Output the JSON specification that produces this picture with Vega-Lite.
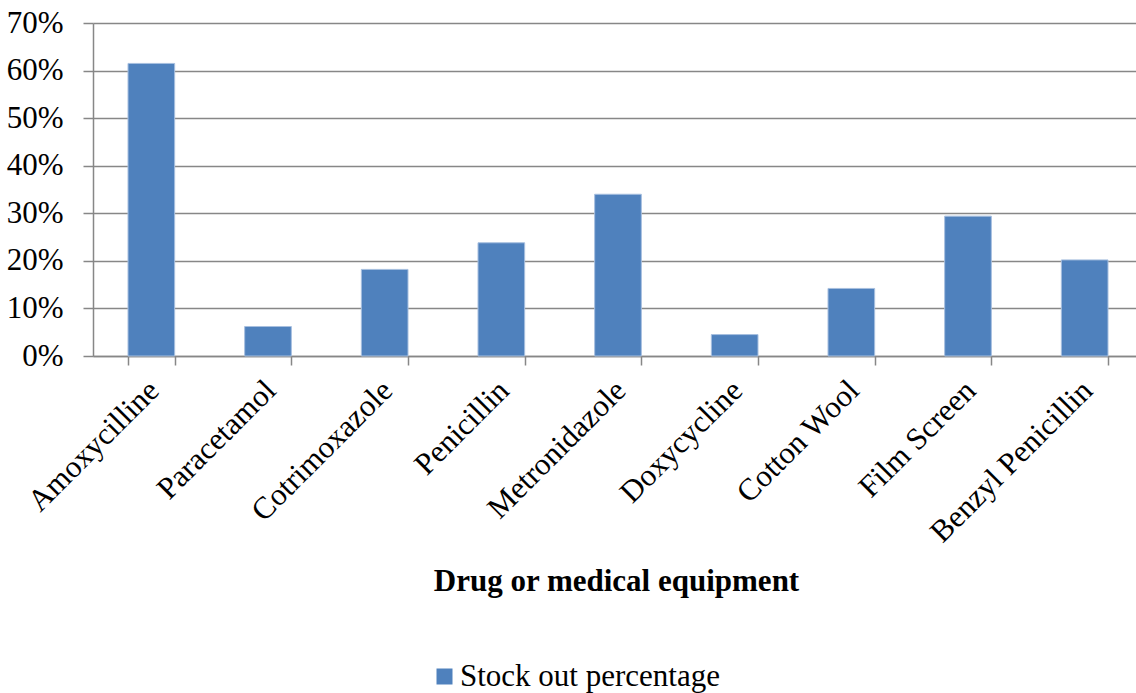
{
  "$schema": "https://vega.github.io/schema/vega-lite/v6.json",
  "width": 1050,
  "height": 333,
  "autosize": "none",
  "padding": {"left": 93, "top": 23, "right": -7, "bottom": 337},
  "background": "white",
  "data": {
    "values": [
      {"item": "Amoxycilline", "pct": 0.615},
      {"item": "Paracetamol", "pct": 0.062},
      {"item": "Cotrimoxazole", "pct": 0.182},
      {"item": "Penicillin", "pct": 0.238},
      {"item": "Metronidazole", "pct": 0.340},
      {"item": "Doxycycline", "pct": 0.045},
      {"item": "Cotton Wool", "pct": 0.142},
      {"item": "Film Screen", "pct": 0.294},
      {"item": "Benzyl Penicillin", "pct": 0.202}
    ]
  },
  "config": {
    "view": {"stroke": null},
    "font": "Liberation Serif"
  },
  "mark": {"type": "bar", "stroke": "#a7bfdf", "strokeWidth": 1},
  "encoding": {
    "x": {
      "field": "item",
      "type": "nominal",
      "sort": null,
      "scale": {"paddingInner": 0.6, "paddingOuter": 0.3},
      "axis": {
        "title": "Drug or medical equipment",
        "titleFont": "Liberation Serif",
        "titleFontSize": 31,
        "titleFontWeight": "bold",
        "titleColor": "black",
        "titleX": 523,
        "titleY": 234,
        "titleBaseline": "alphabetic",
        "titleAnchor": "middle",
        "labelAngle": -45,
        "labelAlign": "right",
        "labelBaseline": "top",
        "labelFont": "Liberation Serif",
        "labelFontSize": 31,
        "labelColor": "black",
        "labelPadding": 10,
        "labelOffset": -8,
        "labelLimit": 0,
        "labelOverlap": false,
        "tickBand": "extent",
        "tickSize": 9,
        "tickColor": "#878787",
        "tickWidth": 1.5,
        "domainColor": "#878787",
        "domainWidth": 1.5,
        "grid": false
      }
    },
    "y": {
      "field": "pct",
      "type": "quantitative",
      "scale": {"domain": [0, 0.7], "nice": false},
      "axis": {
        "title": null,
        "values": [0, 0.1, 0.2, 0.3, 0.4, 0.5, 0.6, 0.7],
        "format": ".0%",
        "labelFont": "Liberation Serif",
        "labelFontSize": 31,
        "labelColor": "black",
        "labelPadding": 20,
        "tickSize": 10,
        "tickColor": "#878787",
        "tickWidth": 1.5,
        "domainColor": "#878787",
        "domainWidth": 1.5,
        "grid": true,
        "gridColor": "#878787",
        "gridWidth": 1.5
      }
    },
    "color": {
      "datum": "Stock out percentage",
      "type": "nominal",
      "scale": {"range": ["#4f81bd"]},
      "legend": {
        "title": null,
        "orient": "none",
        "legendX": 336,
        "legendY": 638,
        "padding": 0,
        "symbolType": "square",
        "symbolSize": 256,
        "symbolStrokeWidth": 0,
        "labelFont": "Liberation Serif",
        "labelFontSize": 31,
        "labelColor": "black",
        "labelOffset": 0,
        "labelLimit": 0
      }
    }
  }
}
